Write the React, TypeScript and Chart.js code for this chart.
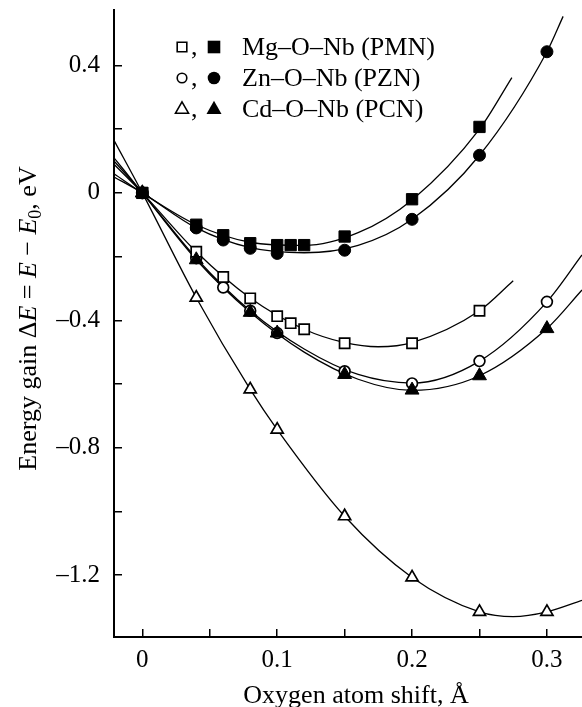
import React, { useEffect, useRef } from 'react';
import { Chart, registerables } from 'chart.js';

Chart.register(...registerables);

const FONT = '"Liberation Serif", "Times New Roman", serif';

// Axis ticks
const xTickValues = [0, 0.05, 0.1, 0.15, 0.2, 0.25, 0.3];
const xTickLabels = ['0', '', '0.1', '', '0.2', '', '0.3'];
const yTickValues = [-1.2, -1.0, -0.8, -0.6, -0.4, -0.2, 0, 0.2, 0.4];
const yTickLabels = ['\u20131.2', '', '\u20130.8', '', '\u20130.4', '', '0', '', '0.4'];

// Measured points
const pmnOpenX = [0, 0.04, 0.06, 0.08, 0.1, 0.11, 0.12, 0.15, 0.2, 0.25];
const pmnOpenY = [0, -0.185, -0.264, -0.331, -0.387, -0.409, -0.428, -0.472, -0.472, -0.37];
const pmnFilledX = [0, 0.04, 0.06, 0.08, 0.1, 0.11, 0.12, 0.15, 0.2, 0.25];
const pmnFilledY = [0, -0.1, -0.133, -0.158, -0.164, -0.164, -0.164, -0.137, -0.02, 0.207];
const pznOpenX = [0, 0.04, 0.06, 0.08, 0.1, 0.15, 0.2, 0.25, 0.3];
const pznOpenY = [0, -0.205, -0.297, -0.37, -0.44, -0.56, -0.598, -0.528, -0.342];
const pznFilledX = [0, 0.04, 0.06, 0.08, 0.1, 0.15, 0.2, 0.25, 0.3];
const pznFilledY = [0, -0.11, -0.148, -0.174, -0.19, -0.18, -0.083, 0.118, 0.443];
const pcnOpenX = [0, 0.04, 0.08, 0.1, 0.15, 0.2, 0.25, 0.3];
const pcnOpenY = [0, -0.329, -0.617, -0.743, -1.015, -1.207, -1.315, -1.315];
const pcnFilledX = [0, 0.04, 0.08, 0.1, 0.15, 0.2, 0.25, 0.3];
const pcnFilledY = [0, -0.21, -0.375, -0.44, -0.57, -0.619, -0.574, -0.426];

// Fitted curves
const pmnFilledFitX = [-0.021, 0, 0.04, 0.08, 0.12, 0.16, 0.2, 0.25, 0.274];
const pmnFilledFitY = [0.06, 0, -0.1, -0.155, -0.165, -0.125, -0.022, 0.2, 0.362];
const pznFilledFitX = [-0.021, 0, 0.04, 0.08, 0.12, 0.16, 0.2, 0.25, 0.3, 0.312];
const pznFilledFitY = [0.05, 0, -0.11, -0.172, -0.188, -0.165, -0.083, 0.118, 0.443, 0.554];
const pmnOpenFitX = [-0.021, 0, 0.04, 0.08, 0.12, 0.15, 0.175, 0.2, 0.25, 0.275];
const pmnOpenFitY = [0.09, 0, -0.185, -0.33, -0.428, -0.47, -0.483, -0.47, -0.37, -0.276];
const pznOpenFitX = [-0.021, 0, 0.04, 0.08, 0.12, 0.16, 0.2, 0.25, 0.3, 0.326];
const pznOpenFitY = [0.1, 0, -0.205, -0.37, -0.49, -0.57, -0.597, -0.528, -0.342, -0.195];
const pcnFilledFitX = [-0.021, 0, 0.04, 0.08, 0.12, 0.16, 0.2, 0.25, 0.3, 0.326];
const pcnFilledFitY = [0.11, 0, -0.21, -0.375, -0.5, -0.585, -0.62, -0.574, -0.426, -0.305];
const pcnOpenFitX = [-0.021, 0, 0.04, 0.08, 0.1, 0.15, 0.2, 0.25, 0.275, 0.3, 0.326];
const pcnOpenFitY = [0.165, 0, -0.329, -0.617, -0.743, -1.015, -1.207, -1.315, -1.33, -1.315, -1.279];

// Texts
const legendLabels = ['Mg\u2013O\u2013Nb (PMN)', 'Zn\u2013O\u2013Nb (PZN)', 'Cd\u2013O\u2013Nb (PCN)'];
const legendShapes = ['rect', 'circle', 'triangle'];
const xTitle = 'Oxygen atom shift, \u00c5';
const yTitleParts = [
  { text: 'Energy gain ', italic: false, sub: false },
  { text: '\u0394', italic: false, sub: false },
  { text: 'E', italic: true, sub: false },
  { text: ' = ', italic: false, sub: false },
  { text: 'E', italic: true, sub: false },
  { text: ' \u2212 ', italic: false, sub: false },
  { text: 'E', italic: true, sub: false },
  { text: '0', italic: false, sub: true },
  { text: ', eV', italic: false, sub: false },
];

const pts = (xs: number[], ys: number[]) => xs.map((x, i) => ({ x, y: ys[i] }));

function drawShape(ctx: CanvasRenderingContext2D, shape: string, x: number, y: number, r: number, filled: boolean) {
  ctx.save();
  ctx.beginPath();
  if (shape === 'rect') {
    ctx.rect(x - r, y - r, 2 * r, 2 * r);
  } else if (shape === 'circle') {
    ctx.arc(x, y, r, 0, Math.PI * 2);
  } else {
    ctx.moveTo(x, y - r * 1.1);
    ctx.lineTo(x + r, y + r * 0.65);
    ctx.lineTo(x - r, y + r * 0.65);
    ctx.closePath();
  }
  if (filled) {
    ctx.fillStyle = '#000';
    ctx.fill();
  } else {
    ctx.fillStyle = '#fff';
    ctx.fill();
    ctx.lineWidth = 1.6;
    ctx.strokeStyle = '#000';
    ctx.stroke();
  }
  ctx.restore();
}

const textPlugin = {
  id: 'customText',
  afterDraw(chart: any) {
    const ctx: CanvasRenderingContext2D = chart.ctx;
    const area = chart.chartArea;
    ctx.save();
    ctx.fillStyle = '#000';
    // Legend
    const baseY = area.top + 45;
    const rowH = 31;
    legendLabels.forEach((label, i) => {
      const by = baseY + i * rowH;
      const cy = by - 8;
      const shape = legendShapes[i];
      const ro = shape === 'triangle' ? 6.5 : 4.8;
      const rf = shape === 'triangle' ? 7.5 : 6.3;
      drawShape(ctx, shape, area.left + 68, cy, ro, false);
      ctx.font = `26px ${FONT}`;
      ctx.textBaseline = 'alphabetic';
      ctx.textAlign = 'left';
      ctx.fillText(',', area.left + 77, by);
      drawShape(ctx, shape, area.left + 100, cy, rf, true);
      ctx.fillText(label, area.left + 128, by);
    });
    // X title
    ctx.font = `26px ${FONT}`;
    ctx.textAlign = 'center';
    ctx.textBaseline = 'alphabetic';
    ctx.fillText(xTitle, (area.left + area.right) / 2 + 8, area.bottom + 66);
    // Y title
    ctx.translate(36, (area.top + area.bottom) / 2 - 5);
    ctx.rotate(-Math.PI / 2);
    const fontFor = (p: any) => `${p.italic ? 'italic ' : ''}${p.sub ? 18 : 26}px ${FONT}`;
    let total = 0;
    yTitleParts.forEach((p) => {
      ctx.font = fontFor(p);
      total += ctx.measureText(p.text).width;
    });
    let cx = -total / 2;
    ctx.textAlign = 'left';
    yTitleParts.forEach((p) => {
      ctx.font = fontFor(p);
      ctx.fillText(p.text, cx, p.sub ? 5 : 0);
      cx += ctx.measureText(p.text).width;
    });
    ctx.restore();
  },
};

const fitStyle = {
  showLine: true,
  pointRadius: 0,
  borderColor: '#000',
  borderWidth: 1.3,
  cubicInterpolationMode: 'monotone',
  fill: false,
  order: 3,
};

const openStyle = (style: string, r: number) => ({
  showLine: false,
  pointStyle: style,
  pointRadius: r,
  pointBackgroundColor: '#fff',
  pointBorderColor: '#000',
  pointBorderWidth: 1.7,
  order: 2,
});

const filledStyle = (style: string, r: number) => ({
  showLine: false,
  pointStyle: style,
  pointRadius: r,
  pointBackgroundColor: '#000',
  pointBorderColor: '#000',
  pointBorderWidth: 1,
  order: 1,
});

export default function App() {
  const ref = useRef<HTMLCanvasElement | null>(null);
  useEffect(() => {
    if (!ref.current) return;
    const findLabel = (vals: number[], labels: string[], v: number) => {
      const i = vals.findIndex((t) => Math.abs(t - v) < 1e-9);
      return i >= 0 ? labels[i] : '';
    };
    const chart = new Chart(ref.current, {
      type: 'scatter',
      data: {
        datasets: [
          { label: 'PMN fit filled', data: pts(pmnFilledFitX, pmnFilledFitY), ...fitStyle },
          { label: 'PZN fit filled', data: pts(pznFilledFitX, pznFilledFitY), ...fitStyle },
          { label: 'PMN fit open', data: pts(pmnOpenFitX, pmnOpenFitY), ...fitStyle },
          { label: 'PZN fit open', data: pts(pznOpenFitX, pznOpenFitY), ...fitStyle },
          { label: 'PCN fit filled', data: pts(pcnFilledFitX, pcnFilledFitY), ...fitStyle },
          { label: 'PCN fit open', data: pts(pcnOpenFitX, pcnOpenFitY), ...fitStyle },
          { label: 'PMN open', data: pts(pmnOpenX, pmnOpenY), ...openStyle('rect', 7.2) },
          { label: 'PZN open', data: pts(pznOpenX, pznOpenY), ...openStyle('circle', 5.4) },
          { label: 'PCN open', data: pts(pcnOpenX, pcnOpenY), ...openStyle('triangle', 7) },
          { label: 'PMN filled', data: pts(pmnFilledX, pmnFilledY), ...filledStyle('rect', 8) },
          { label: 'PZN filled', data: pts(pznFilledX, pznFilledY), ...filledStyle('circle', 6) },
          { label: 'PCN filled', data: pts(pcnFilledX, pcnFilledY), ...filledStyle('triangle', 8) },
        ] as any,
      },
      options: {
        animation: false,
        responsive: true,
        maintainAspectRatio: false,
        layout: { autoPadding: false, padding: { top: 10, left: 0, right: 0, bottom: 0 } },
        plugins: { legend: { display: false }, tooltip: { enabled: false } },
        scales: {
          x: {
            type: 'linear',
            min: -0.021,
            max: 0.326,
            afterFit: (s: any) => { s.height = 70; s.paddingRight = 0; s.paddingLeft = 0; },
            afterBuildTicks: (s: any) => { s.ticks = xTickValues.map((v) => ({ value: v })); },
            ticks: {
              callback: (v: any) => findLabel(xTickValues, xTickLabels, Number(v)),
              font: { family: FONT, size: 25 },
              color: '#000',
              padding: 16,
              autoSkip: false,
              maxRotation: 0,
            },
            grid: { drawOnChartArea: false, tickLength: -8, color: '#000', lineWidth: 1.5 },
            border: { color: '#000', width: 2 },
            title: { display: false },
          },
          y: {
            type: 'linear',
            min: -1.394,
            max: 0.574,
            afterFit: (s: any) => { s.width = 114; s.paddingTop = 0; s.paddingBottom = 0; },
            afterBuildTicks: (s: any) => { s.ticks = yTickValues.map((v) => ({ value: v })); },
            ticks: {
              callback: (v: any) => findLabel(yTickValues, yTickLabels, Number(v)),
              font: { family: FONT, size: 25 },
              color: '#000',
              padding: 22,
              autoSkip: false,
            },
            grid: { drawOnChartArea: false, tickLength: -8, color: '#000', lineWidth: 1.5 },
            border: { color: '#000', width: 2 },
            title: { display: false },
          },
        },
      } as any,
      plugins: [textPlugin],
    });
    return () => chart.destroy();
  }, []);
  return (
    <div style={{ position: 'fixed', left: 0, top: 0, width: 582, height: 707, background: '#fff' }}>
      <canvas ref={ref} />
    </div>
  );
}
